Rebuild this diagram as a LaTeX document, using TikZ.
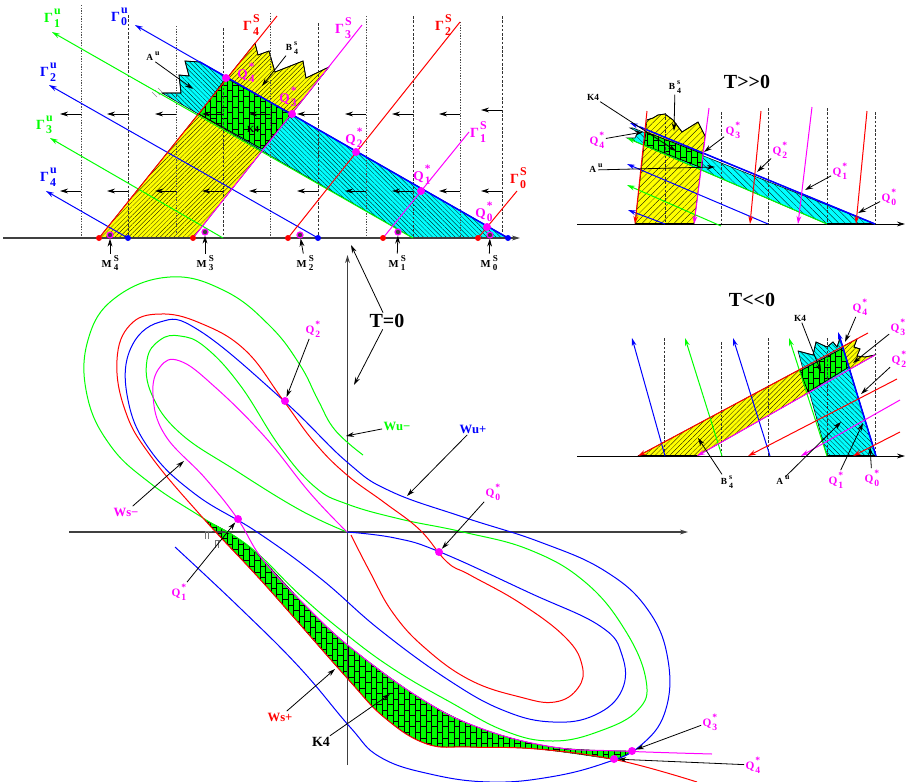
\documentclass[tikz,border=0pt]{standalone}
\usepackage{fontspec}
\setmainfont{Liberation Serif}
\usetikzlibrary{arrows.meta}
\usetikzlibrary{patterns,patterns.meta}

\definecolor{wmag}{RGB}{255,0,255}
\definecolor{wcyan}{RGB}{0,255,255}
\definecolor{wyel}{RGB}{255,255,0}
\definecolor{wgreen}{RGB}{0,255,0}
\definecolor{wblue}{RGB}{0,0,255}
\definecolor{wred}{RGB}{255,0,0}

\pgfdeclarepatternformonly{brickwall}{\pgfqpoint{-.5pt}{-.5pt}}{\pgfqpoint{8.8pt}{8.8pt}}{\pgfqpoint{8.3pt}{8.3pt}}{
  \pgfsetlinewidth{.3pt}
  \pgfpathmoveto{\pgfqpoint{0pt}{0pt}}\pgfpathlineto{\pgfqpoint{0pt}{8.3pt}}
  \pgfpathmoveto{\pgfqpoint{4.15pt}{0pt}}\pgfpathlineto{\pgfqpoint{4.15pt}{8.3pt}}
  \pgfpathmoveto{\pgfqpoint{0pt}{0pt}}\pgfpathlineto{\pgfqpoint{4.15pt}{0pt}}
  \pgfpathmoveto{\pgfqpoint{4.15pt}{4.15pt}}\pgfpathlineto{\pgfqpoint{8.3pt}{4.15pt}}
  \pgfusepath{stroke}}

\newcommand{\stacklab}[3]{#1\kern.08em\rlap{\raisebox{.55em}{\scalebox{.85}{#2}}}\raisebox{-.35em}{\scalebox{.85}{#3}}}

\tikzset{
  yellowzone/.style={preaction={fill=wyel},pattern={Lines[angle=45,distance=#1,line width=.22pt]},pattern color=black},
  cyanzone/.style={preaction={fill=wcyan},pattern={Lines[angle=-45,distance=#1,line width=.22pt]},pattern color=black},
  kfour/.style={preaction={fill=wgreen},pattern=brickwall,pattern color=black,draw=black,line width=.6pt},
  curve/.style={line width=.75pt},
  ray/.style={->,line width=.75pt},
  guide/.style={black!80,line width=.6pt,dashed,dash pattern=on 2pt off 1.2pt},
  guidedot/.style={black!70,line width=.6pt,dash pattern=on 1pt off 1pt},
  flow/.style={->,black,line width=.7pt},
  leader/.style={->,black,line width=.6pt},
  qdot/.style={circle,fill=wmag,inner sep=0pt,minimum size=6pt},
  mdot/.style={circle,draw=wmag,fill=black!75,line width=.9pt,inner sep=0pt,minimum size=4.5pt},
  rdot/.style={circle,fill=wred,inner sep=0pt,minimum size=4.5pt},
  bdot/.style={circle,fill=wblue,inner sep=0pt,minimum size=4.5pt},
  title/.style={font=\fontsize{15}{17}\selectfont\bfseries,inner sep=1pt},
  gam/.style={font=\fontsize{10.5}{12}\selectfont\bfseries,inner sep=1pt},
  qbig/.style={font=\fontsize{10}{12}\selectfont\bfseries,text=wmag,inner sep=1pt},
  qsmall/.style={font=\fontsize{8.5}{10}\selectfont\bfseries,text=wmag,inner sep=1pt},
  small/.style={font=\fontsize{7}{8}\selectfont\bfseries,inner sep=1pt},
  wlab/.style={font=\fontsize{9.5}{11}\selectfont\bfseries,inner sep=1pt},
}

\begin{document}
\begin{tikzpicture}[x=.75pt,y=-.75pt,>={Stealth[length=6pt,width=3.6pt]}]
\useasboundingbox (0,0) rectangle (911,782);

% --- TOP PANEL ---
\draw[yellowzone=2.4pt] (99,238) -- (255,43) -- (258,55) -- (269,51) -- (275,72) -- (303,61) -- (306,78) -- (329,67) -- (193,238) -- cycle;
\draw[black,line width=.6pt] (255,43) -- (258,55) -- (269,51) -- (275,72) -- (303,61) -- (306,78) -- (329,67);
\draw[cyanzone=2.4pt] (508,238) -- (200,62) -- (185,61) -- (189,76) -- (179,75) -- (181,93) -- (162,93) -- (413,238) -- cycle;
\draw[black,line width=.6pt] (200,62) -- (185,61) -- (189,76) -- (179,75) -- (181,93) -- (162,93);
\draw[kfour] (226,78) -- (292,114) -- (262,149) -- (199,114) -- cycle;
\draw[black!45,line width=.5pt] (152,92) -- (157,97) (155,90) -- (160,95) (158,88) -- (162,92);

\foreach \x/\y in {128/15,223/28,318/23,413/16,502/16} \draw[guide] (\x,\y) -- (\x,238);
\foreach \x/\y in {81/5,176/26,270/13,366/16,460/22} \draw[guidedot] (\x,\y) -- (\x,238);

\foreach \x in {81,128,176,223,270,318,366,413,460} \draw[flow] (\x,114) -- ++(-21,0);
\draw[flow] (502,110) -- ++(-21,0);
\foreach \x in {81,128,176,223,270,318,366,413,460,502} \draw[flow] (\x,191) -- ++(-21,0);

\draw[->,black!75,line width=1.1pt] (3,238) -- (520,238);

\draw[ray,wblue] (508,238) -- (135,25);
\draw[wblue,line width=1.1pt] (508,238) -- (200,62);
\draw[ray,wgreen] (413,238) -- (52,32);
\draw[ray,wblue] (318,238) -- (49,85);
\draw[ray,wgreen] (223,238) -- (50,138);
\draw[ray,wblue] (128,238) -- (46,191);
\draw[curve,wred] (99,238) -- (277,16);
\draw[curve,wmag] (193,238) -- (362,25);
\draw[curve,wred] (288,238) -- (460,22);
\draw[curve,wmag] (383,238) -- (469,132);
\draw[curve,wred] (478,238) -- (517,191);

\foreach \x in {99,193,288,383,478} \node[rdot] at (\x,238) {};
\foreach \x in {128,318,508} \node[bdot] at (\x,238) {};
\node[mdot] (tm4) at (110,235) {};
\node[mdot] (tm3) at (205,232) {};
\node[mdot] (tm2) at (300,235) {};
\node[mdot] (tm1) at (398,232) {};
\node[mdot] (tm0) at (490,235) {};
\node[qdot] at (226,78) {};
\node[qdot] at (292,114) {};
\node[qdot] at (356,152) {};
\node[qdot] at (421,191) {};
\node[qdot] at (487,227) {};

\node[gam,text=wgreen] at (52,18) {\stacklab{Γ}{u}{1}};
\node[gam,text=wblue] at (119,17) {\stacklab{Γ}{u}{0}};
\node[gam,text=wblue] at (48,72) {\stacklab{Γ}{u}{2}};
\node[gam,text=wgreen] at (44,125) {\stacklab{Γ}{u}{3}};
\node[gam,text=wblue] at (48,177) {\stacklab{Γ}{u}{4}};
\node[gam,text=wred] at (251,25) {\stacklab{Γ}{S}{4}};
\node[gam,text=wmag] at (343,28) {\stacklab{Γ}{S}{3}};
\node[gam,text=wred] at (443,25) {\stacklab{Γ}{S}{2}};
\node[gam,text=wmag] at (478,132) {\stacklab{Γ}{S}{1}};
\node[gam,text=wred] at (518,178) {\stacklab{Γ}{S}{0}};
\node[qbig] at (246,73) {\stacklab{Q}{*}{4}};
\node[qbig] at (288,97) {\stacklab{Q}{*}{3}};
\node[qbig] at (354,138) {\stacklab{Q}{*}{2}};
\node[qbig] at (422,175) {\stacklab{Q}{*}{1}};
\node[qbig] at (484,212) {\stacklab{Q}{*}{0}};

\node[small] (tau) at (150,58) {\stacklab{A}{\,u}{}};
\node[small] (tbs) at (292,48) {\stacklab{B}{\,s}{\,4}};
\node[small] (tk4) at (253,129) {K4};
\coordinate (tautip) at (193,89);
\coordinate (tbstip) at (262,86);
\draw[leader] (tau) -- (tautip);
\draw[leader] (tbs) -- (tbstip);
\node[small,font=\fontsize{8}{9}\selectfont\bfseries] (tl4) at (110,263) {\stacklab{M}{\,S}{\,4}};
\node[small,font=\fontsize{8}{9}\selectfont\bfseries] (tl3) at (205,263) {\stacklab{M}{\,S}{\,3}};
\node[small,font=\fontsize{8}{9}\selectfont\bfseries] (tl2) at (305,263) {\stacklab{M}{\,S}{\,2}};
\node[small,font=\fontsize{8}{9}\selectfont\bfseries] (tl1) at (397,263) {\stacklab{M}{\,S}{\,1}};
\node[small,font=\fontsize{8}{9}\selectfont\bfseries] (tl0) at (489,263) {\stacklab{M}{\,S}{\,0}};
\foreach \n in {4,3,2,1,0} \draw[leader] (tl\n) -- (tm\n);

% --- T>>0 PANEL ---
\draw[yellowzone=3.4pt] (635,224) -- (647,120) -- (653,118) -- (658,115) -- (665,114) -- (673,120) -- (682,132) -- (698,122) -- (705,136) -- (694,224) -- cycle;
\draw[black,line width=.6pt] (647,120) -- (653,118) -- (658,115) -- (665,114) -- (673,120) -- (682,132) -- (698,122) -- (705,136);
\draw[cyanzone=3.4pt] (875,224) -- (633,128) -- (630,128) -- (638,132) -- (635,138) -- (627,138) -- (827,224) -- cycle;
\draw[kfour] (646,132) -- (703,154) -- (702,168) -- (644,145) -- cycle;
\foreach \x/\y in {665/113,721/112,768/108,827/108,875/112} \draw[guide] (\x,\y) -- (\x,224);
\draw[->,black,line width=.7pt] (577,224) -- (905,224);
\draw[black,line width=1.3pt] (635,224) -- (694,224) (827,224) -- (875,224);
\draw[ray,wblue] (875,224) -- (630,123);
\draw[wblue,line width=1.1pt] (875,224) -- (640,127);
\draw[ray,wgreen] (827,224) -- (627,138);
\draw[ray,wblue] (768,224) -- (627,164);
\draw[ray,wgreen] (721,226) -- (627,185);
\draw[ray,wblue] (665,224) -- (628,210);
\draw[ray,wred] (647,111) -- (635,224);
\draw[ray,wmag] (709,108) -- (694,224);
\draw[ray,wred] (761,111) -- (750,224);
\draw[ray,wmag] (812,107) -- (798,224);
\draw[ray,wred] (867,111) -- (856,224);

\node[title] at (747,82) {T{>}{>}0};
\node[qsmall] (pq4) at (597,140) {\stacklab{Q}{*}{4}};
\node[qsmall] (pq3) at (733,130) {\stacklab{Q}{*}{3}};
\node[qsmall] (pq2) at (780,150) {\stacklab{Q}{*}{2}};
\node[qsmall] (pq1) at (840,171) {\stacklab{Q}{*}{1}};
\node[qsmall] (pq0) at (889,197) {\stacklab{Q}{*}{0}};
\node[small] (pk4) at (593,97) {K4};
\node[small] (pbs) at (675,87) {\stacklab{B}{\,s}{\,4}};
\node[small] (pau) at (593,170) {\stacklab{A}{\,u}{}};
\coordinate (pq4tip) at (643,132);
\coordinate (pq3tip) at (704,152);
\coordinate (pq2tip) at (757,172);
\coordinate (pq1tip) at (805,190);
\coordinate (pq0tip) at (858,213);
\coordinate (pk4tip) at (676,151);
\coordinate (pbstip) at (674,131);
\coordinate (pautip) at (715,167);
\foreach \n in {q4,q3,q2,q1,q0,k4,bs,au} \draw[leader] (p\n) -- (p\n tip);

% --- T<<0 PANEL ---
\draw[yellowzone=2.6pt] (638,456) -- (857,339) -- (854,347) -- (860,349) -- (857,356) -- (865,357) -- (875,355) -- (697,456) -- cycle;
\draw[black,line width=.6pt] (857,339) -- (854,347) -- (860,349) -- (857,356) -- (865,357) -- (875,355);
\draw[cyanzone=2.6pt] (827,456) -- (798,351) -- (813,355) -- (816,342) -- (827,347) -- (833,342) -- (837,347) -- (840,338) -- (876,456) -- cycle;
\draw[black,line width=.6pt] (798,351) -- (813,355) -- (816,342) -- (827,347) -- (833,342) -- (837,347) -- (840,338);
\draw[kfour] (800,371) -- (843,348) -- (849,367) -- (808,392) -- cycle;
\foreach \x/\y in {664/338,721/342,768/338,827/338,875/340} \draw[guide] (\x,\y) -- (\x,456);
\draw[->,black,line width=.7pt] (577,456) -- (905,456);
\draw[black,line width=1.3pt] (638,456) -- (697,456) (827,456) -- (875,456);
\draw[ray,wblue] (665,456) -- (632,338);
\draw[ray,wgreen] (722,456) -- (685,338);
\draw[ray,wblue] (770,456) -- (733,338);
\draw[ray,wgreen] (827,456) -- (789,338);
\draw[ray,wblue] (876,456) -- (838,332);
\draw[wblue,line width=1.1pt] (876,456) -- (840,338);
\draw[ray,wred] (868,333) -- (638,456);
\draw[ray,wmag] (875,355) -- (697,456);
\draw[ray,wred] (897,379) -- (748,456);
\draw[ray,wmag] (900,400) -- (801,456);
\draw[ray,wred] (900,432) -- (853,456);

\node[title] at (752,300) {T{<}{<}0};
\node[qsmall] (nq4) at (860,307) {\stacklab{Q}{*}{4}};
\node[qsmall] (nq3) at (898,327) {\stacklab{Q}{*}{3}};
\node[qsmall] (nq2) at (899,359) {\stacklab{Q}{*}{2}};
\node[qsmall] (nq1) at (836,480) {\stacklab{Q}{*}{1}};
\node[qsmall] (nq0) at (872,478) {\stacklab{Q}{*}{0}};
\node[small] (nk4) at (800,318) {K4};
\node[small] (nau) at (780,482) {\stacklab{A}{\,u}{}};
\node[small] (nbs) at (727,482) {\stacklab{B}{\,s}{\,4}};
\coordinate (nq4tip) at (845,342);
\coordinate (nq3tip) at (853,363);
\coordinate (nq2tip) at (861,394);
\coordinate (nq1tip) at (863,423);
\coordinate (nq0tip) at (870,447);
\coordinate (nk4tip) at (821,372);
\coordinate (nautip) at (841,422);
\coordinate (nbstip) at (698,438);
\foreach \n in {q4,q3,q2,q1,q0,k4,au,bs} \draw[leader] (n\n) -- (n\n tip);

% --- MAIN PICTURE ---
\draw[kfour,line width=.3pt] plot[smooth,tension=.6] coordinates {(205,520) (233,535) (260,557) (305,605) (350,647) (420,698) (480,728) (553,747) (632,751)}
  -- plot[smooth,tension=.6] coordinates {(617,760) (537,749) (470,747) (427,744) (385,718) (347,678) (267,587) (230,547)} -- cycle;

\draw[->,black!75,line width=1pt] (69,532) -- (688,532);
\draw[->,black!75,line width=1pt] (347.5,765) -- (347.5,255);

\draw[curve,wgreen] plot[smooth,tension=.7] coordinates {(347,532) (300,510) (235,470) (180,433) (152,395) (147,360) (160,340) (180,336) (205,347) (240,385) (280,447) (315,487) (347,504) (400,519) (463,532) (530,550) (585,582) (625,630) (646,680) (638,710) (600,731) (553,741) (505,731) (450,702) (395,670) (347,635) (300,595) (250,547) (203,518) (150,483) (110,445) (87,395) (88,340) (115,298) (170,277) (225,291) (270,326) (300,365) (318,400) (335,430) (363,455)};

\draw[curve,wblue] plot[smooth,tension=.7] coordinates {(347,532) (395,538) (440,552) (530,593) (600,626) (622,655) (622,690) (595,715) (553,722) (505,711) (450,681) (380,630) (320,578) (257,532) (195,494) (150,450) (128,400) (130,350) (160,322) (200,331) (283,400) (347,462) (390,491) (463,517) (540,542) (605,571) (648,610) (668,660) (665,712) (640,746) (605,763) (550,777) (490,782) (430,774) (380,757) (350,727) (300,668) (240,608) (175,547)};

\draw[curve,wred] plot[smooth,tension=.7] coordinates {(351,535) (370,572) (393,613) (425,648) (470,680) (520,697) (555,702) (578,688) (582,665) (565,637) (520,603) (470,575) (447,562) (420,530) (385,503) (347,475) (315,443) (283,400) (245,350) (200,323) (160,314) (130,325) (117,360) (125,410) (150,455) (203,518) (267,587) (347,678) (385,718) (427,744) (470,747) (537,749) (617,760) (697,782)};

\draw[curve,wmag] plot[smooth,tension=.7] coordinates {(347,532) (310,493) (265,437) (215,387) (180,361) (160,367) (153,395) (165,435) (205,478) (237,518) (263,560) (305,605) (350,647) (420,698) (480,728) (553,747) (620,751) (712,754)};

\draw[black!55,line width=.5pt] (205,539) -- (205,531) -- (212,531) (208,531) -- (208,539) (215,548) -- (215,540) -- (221,540) (218,540) -- (218,548);

\node[qdot] (md2) at (285,401) {};
\node[qdot] (md1) at (238,519) {};
\node[qdot] (md0) at (439,552) {};
\node[qdot] (md3) at (632,751) {};
\node[qdot] (md4) at (614,759) {};

\node[title] (mt) at (387,321) {T=0};
\coordinate (mtup) at (351,245);
\coordinate (mtdown) at (354,385);
\draw[leader] (mt) -- (mtup);
\draw[leader] (mt) -- (mtdown);

\node[qsmall] (mq2) at (313,329) {\stacklab{Q}{*}{2}};
\node[qsmall] (mq1) at (179,592) {\stacklab{Q}{*}{1}};
\node[qsmall] (mq0) at (493,492) {\stacklab{Q}{*}{0}};
\node[qsmall] (mq3) at (710,722) {\stacklab{Q}{*}{3}};
\node[qsmall] (mq4) at (753,765) {\stacklab{Q}{*}{4}};
\foreach \n in {2,1,0,3,4} \draw[leader] (mq\n) -- (md\n);

\node[wlab,text=wmag] (mwsm) at (126,512) {Ws−};
\node[wlab,text=wred] (mwsp) at (280,717) {Ws+};
\node[wlab,text=wgreen] (mwum) at (397,426) {Wu−};
\node[wlab,text=wblue] (mwup) at (473,429) {Wu+};
\node[wlab,text=black,font=\fontsize{10.5}{12}\selectfont\bfseries] (mk4) at (321,742) {K4};
\coordinate (mwsmtip) at (184,461);
\coordinate (mwsptip) at (335,669);
\coordinate (mwumtip) at (346,436);
\coordinate (mwuptip) at (407,496);
\coordinate (mk4tip) at (390,694);
\foreach \n in {wsm,wsp,wum,wup,k4} \draw[leader] (m\n) -- (m\n tip);

\end{tikzpicture}
\end{document}
